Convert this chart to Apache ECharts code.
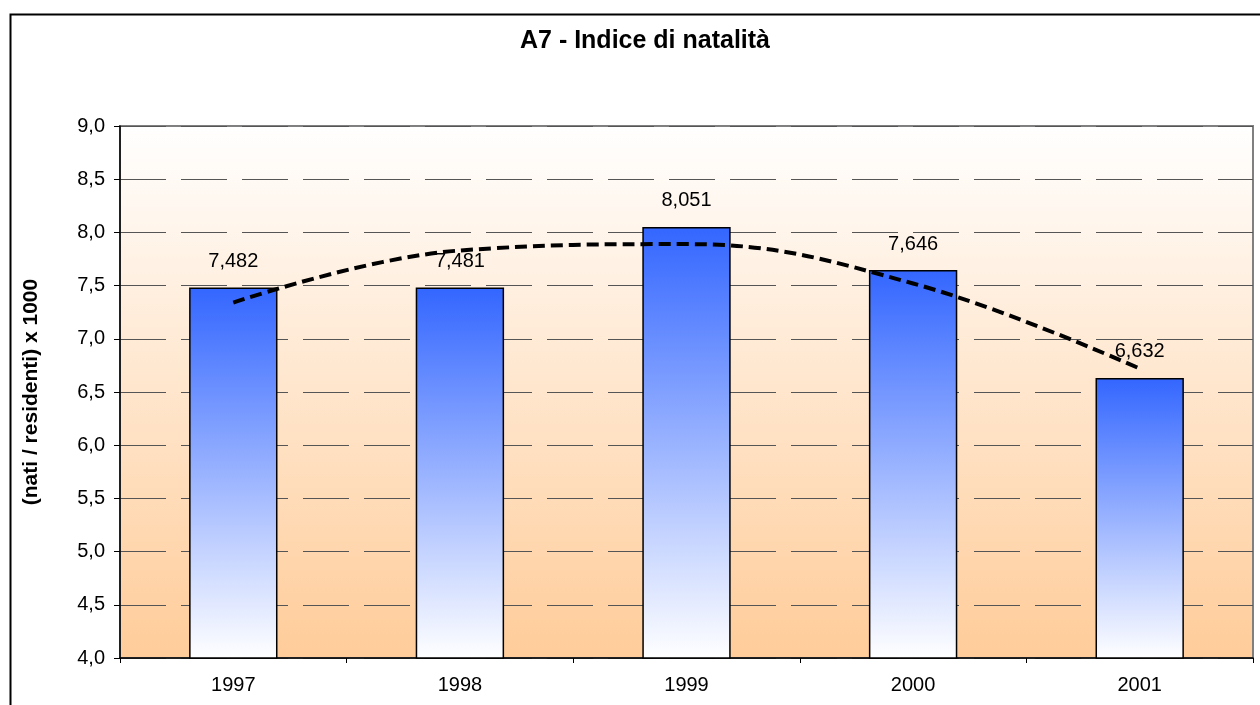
<!DOCTYPE html>
<html><head><meta charset="utf-8">
<script src="https://cdn.jsdelivr.net/npm/echarts@6/dist/echarts.min.js"></script>
<style>html,body{margin:0;padding:0;background:#fff}#c{width:1260px;height:705px}</style>
</head><body><div id="c"></div>
<script>
const categories = ['1997','1998','1999','2000','2001'];
const natalita = [7.482, 7.481, 8.051, 7.646, 6.632];
const trend = [7.34, 7.83, 7.89, 7.52, 6.72];
const yMin = 4.0, yMax = 9.0, yStep = 0.5;

const chart = echarts.init(document.getElementById('c'));
const FONT = '"Liberation Sans", Arial, sans-serif';
chart.setOption({
  animation: false,
  backgroundColor: '#fff',
  title: {
    text: 'A7 - Indice di natalità',
    left: 640, top: 24, textAlign: 'center',
    textStyle: {fontFamily: FONT, fontSize: 25, fontWeight: 'bold', color: '#000'}
  },
  graphic: [{
    type: 'rect', left: 8, top: 12, silent: true,
    shape: {x: 0, y: 0, width: 1400, height: 900},
    style: {fill: 'none', stroke: '#000', lineWidth: 2}
  }],
  grid: {
    left: 120, right: 7, top: 126, bottom: 47,
    show: true, borderColor: '#808080', borderWidth: 2,
    backgroundColor: new echarts.graphic.LinearGradient(0, 0, 0, 1, [
      {offset: 0, color: '#ffffff'}, {offset: 1, color: '#ffcc99'}
    ])
  },
  xAxis: {
    type: 'category', data: categories,
    axisLine: {lineStyle: {color: '#000', width: 1.5}},
    axisTick: {show: true, length: 5, lineStyle: {color: '#000'}},
    axisLabel: {fontFamily: FONT, fontSize: 20, color: '#000', margin: 17},
    splitLine: {show: false}
  },
  yAxis: {
    type: 'value', min: yMin, max: yMax, interval: yStep,
    name: '(nati / residenti) x 1000', nameLocation: 'middle', nameGap: 78,
    nameTextStyle: {fontFamily: FONT, fontSize: 21, fontWeight: 'bold', color: '#000'},
    axisLine: {show: true, lineStyle: {color: '#000', width: 1.5}},
    axisTick: {show: true, length: 6, lineStyle: {color: '#000'}},
    axisLabel: {fontFamily: FONT, fontSize: 20, color: '#000', margin: 15,
      formatter: v => v.toFixed(1).replace('.', ',')},
    splitLine: {show: true, lineStyle: {color: '#555', width: 1, type: [46, 15]}}
  },
  series: [{
    type: 'bar', data: natalita, barWidth: '39%',
    itemStyle: {
      borderColor: '#000', borderWidth: 1.5,
      color: new echarts.graphic.LinearGradient(0, 0, 0, 1, [
        {offset: 0, color: '#3366ff'}, {offset: 1, color: '#ffffff'}
      ])
    },
    label: {show: true, position: 'top', distance: 16, fontFamily: FONT, fontSize: 20, color: '#000',
      formatter: p => p.value.toFixed(3).replace('.', ',')}
  }, {
    type: 'line', data: trend, smooth: 0.4, symbol: 'none', z: 5,
    lineStyle: {color: '#000', width: 4, type: [12, 6]}
  }]
});
</script></body></html>
